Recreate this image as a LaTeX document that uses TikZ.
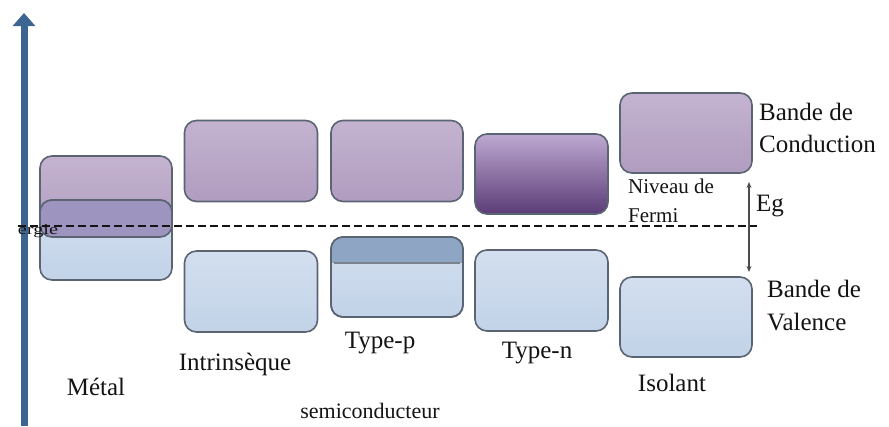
\documentclass[tikz,border=0pt]{standalone}
\usepackage{fontspec}
\setmainfont{Liberation Serif}
\usetikzlibrary{arrows.meta}
\definecolor{axisblue}{HTML}{3D6592}
\definecolor{bordc}{HTML}{5B6472}
\definecolor{purpT}{HTML}{C4B3D0}
\definecolor{purpB}{HTML}{B09CBF}
\definecolor{blueT}{HTML}{D3DFEF}
\definecolor{blueB}{HTML}{C2D3E8}
\definecolor{mixc}{HTML}{9D94BF}
\definecolor{pband}{HTML}{8EA5C4}
\definecolor{nT}{HTML}{BDA9D1}
\definecolor{nB}{HTML}{5C3C77}
\definecolor{txt}{HTML}{141414}
\tikzset{
  bandbox/.style={draw=bordc, line width=1.6pt, rounded corners=12pt, inner sep=0pt, minimum width=132pt},
  cbox/.style={bandbox, top color=purpT, bottom color=purpB, minimum height=81pt},
  vbox/.style={bandbox, top color=blueT, bottom color=blueB, minimum height=80pt},
  lbl/.style={text=txt, font=\fontsize{25}{30}\selectfont, inner sep=0pt},
}
\begin{document}
\begin{tikzpicture}[x=1pt,y=-1pt]
\useasboundingbox (0,0) rectangle (889,426);
\fill[white] (0,0) rectangle (889,426);
% axis
\coordinate (axb) at (24,426);
\coordinate (axt) at (24,13);
\draw[axisblue, line width=7pt, -{Triangle[width=22pt,length=13pt]}] (axb) -- (axt);
% Metal
\node[cbox] (mc) at (106,196.5) {};
\node[vbox] (mv) at (106,240) {};
\node[bandbox, fill=mixc, minimum height=37pt] (mo) at (106,218.5) {};
% Intrinseque
\node[cbox, minimum width=133pt] (ic) at (251,161) {};
\node[vbox, minimum width=133pt, minimum height=81pt] (iv) at (251,291.5) {};
% Type-p
\node[cbox] (pc) at (397,161) {};
\node[vbox] (pv) at (397,277) {};
\begin{scope}
\clip[rounded corners=12pt] (331,237) rectangle (463,317);
\fill[pband] (331,237) rectangle (463,263);
\end{scope}
\draw[bordc, line width=1.6pt, rounded corners=12pt] (331,237) rectangle (463,317);
\draw[bordc!80, line width=1.2pt] (334,263) -- (460,263);
% Type-n
\node[bandbox, top color=nT, bottom color=nB, minimum height=80pt, minimum width=133pt] (nc) at (541.5,174) {};
\node[vbox, minimum width=133pt, minimum height=81pt] (nv) at (541.5,290.5) {};
% Isolant
\node[cbox, minimum height=80pt] (sc) at (686,133) {};
\node[vbox] (sv) at (686,317) {};
% Fermi level
\coordinate (fl) at (18,226);
\coordinate (fr) at (757,226);
\draw[txt, line width=2pt, dash pattern=on 8pt off 4pt] (fl) -- (fr);
% Eg arrow
\coordinate (egt) at (749,182);
\coordinate (egb) at (749,272);
\draw[black!70, line width=1.2pt, {Stealth[length=6pt,width=5pt]}-{Stealth[length=6pt,width=5pt]}] (egt) -- (egb);
% labels
\node[lbl, anchor=west, align=left, font=\fontsize{25}{32}\selectfont] (bc) at (759,128) {Bande de\\Conduction};
\node[lbl, anchor=west, align=left, font=\fontsize{25}{33}\selectfont] (bv) at (767,306) {Bande de\\Valence};
\node[lbl, anchor=west, align=left, font=\fontsize{21}{29}\selectfont] (nf) at (628,201) {Niveau de\\Fermi};
\node[lbl, anchor=west] (eg) at (756,206) {Eg};
\node[lbl] (lm) at (96,387) {Métal};
\node[lbl] (li) at (235,364) {Intrinsèque};
\node[lbl] (lp) at (380,343) {Type-p};
\node[lbl] (ln) at (537,353) {Type-n};
\node[lbl] (ls) at (672,383) {Isolant};
\node[lbl, font=\fontsize{22}{26}\selectfont] (lsc) at (370,411) {semiconducteur};
\node[lbl, font=\fontsize{15}{17}\selectfont, xscale=1.35] (en) at (38,231) {ergie};
\end{tikzpicture}
\end{document}
